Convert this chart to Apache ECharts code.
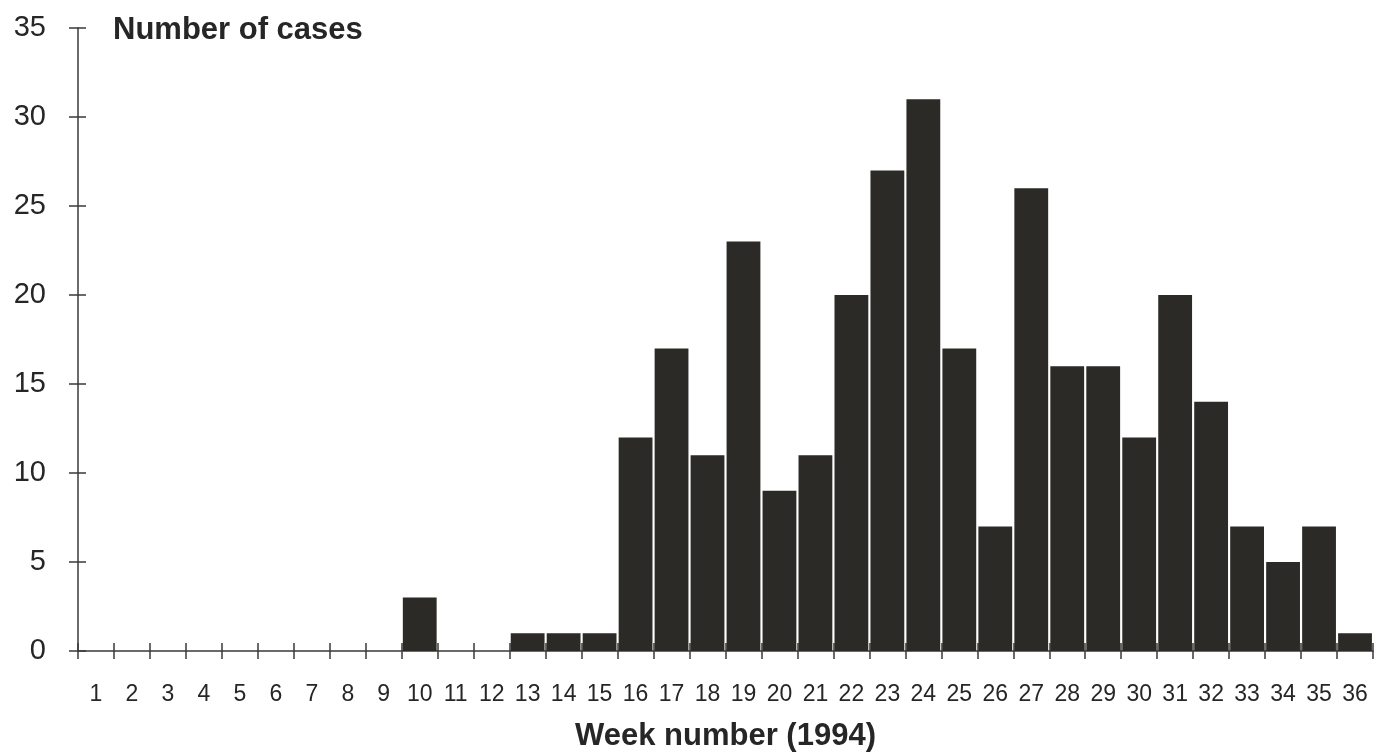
<!DOCTYPE html>
<html>
<head>
<meta charset="utf-8">
<script src="https://cdn.jsdelivr.net/npm/echarts@6/dist/echarts.min.js"></script>
<style>
  html, body { margin: 0; padding: 0; background: #fff; }
  #chart { width: 1386px; height: 754px; }
</style>
</head>
<body>
<div id="chart"></div>
<script>
const chart = echarts.init(document.getElementById("chart"));

// weeks of 1994 and the number of cases in each
const weeks = [];
for (let w = 1; w <= 36; w++) weeks.push(String(w));

const cases = [
    0, 0, 0, 0, 0, 0, 0, 0, 0, 3,
    0, 0, 1, 1, 1, 12, 17, 11, 23, 9,
    11, 20, 27, 31, 17, 7, 26, 16, 16, 12,
    20, 14, 7, 5, 7, 1
];

const yMax = 35;
const yStep = 5;

const ink = "#2b2a26";
const axisColor = "#3a3a3a";
const textColor = "#262626";
const font = "Liberation Sans, Arial, sans-serif";

const option = {
    backgroundColor: "#fff",
    animation: false,
    grid: {
        left: 78,
        right: 13,
        top: 28,
        bottom: 103,
        outerBoundsMode: "none"
    },
    xAxis: [
        {
            type: "category",
            data: weeks,
            boundaryGap: true,
            name: "Week number (1994)",
            nameLocation: "middle",
            nameGap: 70,
            nameMoveOverlap: false,
            nameTextStyle: {
                fontFamily: font,
                fontWeight: "bold",
                fontSize: 31,
                color: textColor
            },
            axisLine: { lineStyle: { color: axisColor, width: 1.5 } },
            axisTick: {
                show: true,
                alignWithLabel: false,
                interval: 0,
                length: 8,
                lineStyle: { color: axisColor, width: 1.5 }
            },
            axisLabel: {
                interval: 0,
                margin: 32,
                fontFamily: font,
                fontSize: 23,
                color: textColor
            },
            splitLine: { show: false }
        },
        {
            // second copy only to draw the tick halves above the axis line
            type: "category",
            data: weeks,
            position: "bottom",
            boundaryGap: true,
            axisLine: { show: false },
            axisTick: {
                show: true,
                inside: true,
                alignWithLabel: false,
                interval: 0,
                length: 8,
                lineStyle: { color: axisColor, width: 1.5 }
            },
            axisLabel: { show: false },
            splitLine: { show: false }
        }
    ],
    yAxis: [
        {
            type: "value",
            min: 0,
            max: yMax,
            interval: yStep,
            name: "Number of cases",
            nameLocation: "end",
            nameGap: -2,
            nameMoveOverlap: false,
            nameTextStyle: {
                align: "left",
                verticalAlign: "middle",
                padding: [0, 0, 0, 35],
                fontFamily: font,
                fontWeight: "bold",
                fontSize: 31,
                color: textColor
            },
            axisLine: { show: true, lineStyle: { color: axisColor, width: 1.5 } },
            axisTick: { show: true, length: 9, lineStyle: { color: axisColor, width: 1.5 } },
            axisLabel: {
                margin: 32,
                fontFamily: font,
                fontSize: 29,
                color: textColor
            },
            splitLine: { show: false }
        },
        {
            type: "value",
            min: 0,
            max: yMax,
            interval: yStep,
            position: "left",
            axisLine: { show: false },
            axisTick: {
                show: true,
                inside: true,
                length: 8,
                lineStyle: { color: axisColor, width: 1.5 }
            },
            axisLabel: { show: false },
            splitLine: { show: false }
        }
    ],
    series: [
        {
            name: "Cases",
            type: "bar",
            xAxisIndex: 0,
            yAxisIndex: 0,
            data: cases,
            barCategoryGap: "6%",
            itemStyle: { color: ink }
        }
    ]
};

chart.setOption(option);
window.addEventListener("resize", () => chart.resize());
</script>
</body>
</html>
